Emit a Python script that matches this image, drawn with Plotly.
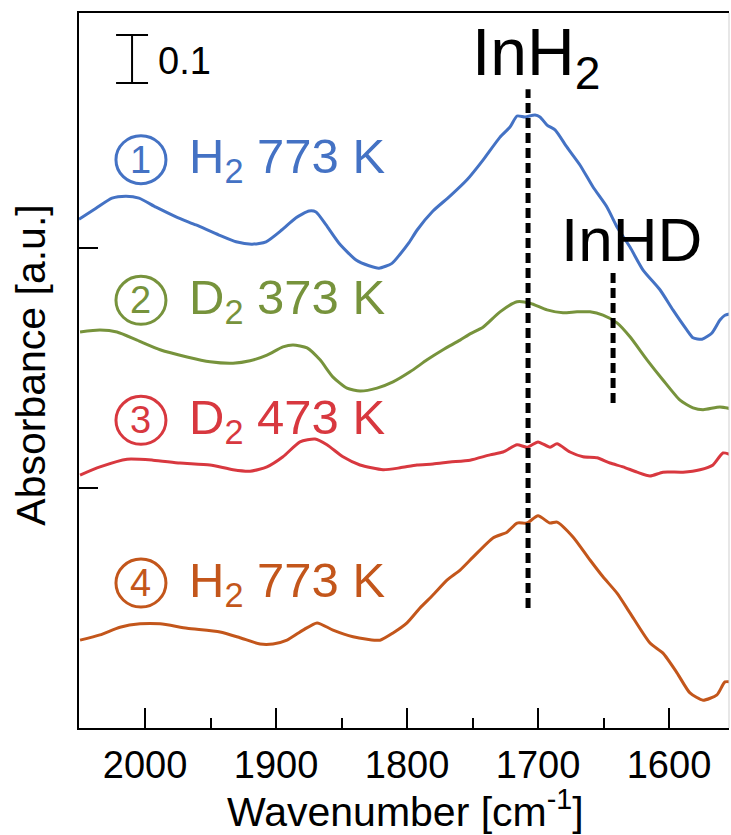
import plotly.graph_objects as go

# ---- spectra: wavenumber [cm-1] and absorbance (offset, a.u.) ----
wn_1 = [2050.4, 2037.4, 2025.2, 2014.5, 2004.6, 1991.6, 1976.3, 1961.1, 1943.5, 1930.5,
        1918.3, 1907.6, 1895.4, 1884.7, 1874.8, 1869.5, 1861.8, 1851.9, 1838.9, 1829.0,
        1821.4, 1811.5, 1805.3, 1798.5, 1792.4, 1780.2, 1767.2, 1754.2, 1742.0, 1729.0,
        1721.4, 1716.0, 1709.9, 1702.3, 1698.5, 1693.1, 1687.0, 1677.9, 1668.0, 1658.0,
        1647.3, 1639.7, 1629.8, 1619.8, 1606.9, 1597.0, 1586.3, 1581.7, 1574.8, 1567.2,
        1561.1, 1557.3, 1552.7]
ab_1 = [1.060, 1.083, 1.104, 1.108, 1.104, 1.085, 1.065, 1.048, 1.027, 1.013,
        1.008, 1.013, 1.038, 1.063, 1.077, 1.075, 1.048, 1.010, 0.975, 0.963,
        0.958, 0.968, 0.987, 1.011, 1.037, 1.077, 1.108, 1.142, 1.183, 1.231,
        1.252, 1.275, 1.273, 1.277, 1.273, 1.256, 1.246, 1.210, 1.173, 1.127,
        1.085, 1.044, 1.002, 0.954, 0.913, 0.871, 0.829, 0.813, 0.810, 0.823,
        0.850, 0.860, 0.863]

wn_2 = [2049.6, 2034.4, 2021.4, 2006.1, 1988.5, 1967.9, 1950.4, 1932.8, 1919.8, 1906.9,
        1894.7, 1887.0, 1876.3, 1866.4, 1856.5, 1845.8, 1835.9, 1822.9, 1810.7, 1797.7,
        1784.7, 1772.5, 1759.5, 1751.9, 1742.0, 1729.0, 1716.0, 1706.1, 1693.1, 1680.9,
        1670.2, 1660.3, 1650.4, 1639.7, 1629.8, 1616.8, 1604.6, 1591.6, 1581.7, 1574.0,
        1561.1, 1552.7]
ab_2 = [0.825, 0.829, 0.825, 0.808, 0.788, 0.773, 0.763, 0.760, 0.765, 0.777,
        0.794, 0.798, 0.792, 0.767, 0.731, 0.708, 0.702, 0.708, 0.721, 0.742,
        0.767, 0.788, 0.808, 0.821, 0.835, 0.867, 0.888, 0.885, 0.871, 0.865,
        0.867, 0.867, 0.860, 0.844, 0.815, 0.767, 0.725, 0.683, 0.667, 0.663,
        0.669, 0.665]

wn_3 = [2049.6, 2034.4, 2013.7, 1993.9, 1973.3, 1950.4, 1932.8, 1919.8, 1906.9, 1894.7,
        1881.7, 1870.2, 1861.1, 1848.9, 1835.9, 1818.3, 1805.3, 1792.4, 1780.2, 1767.2,
        1751.9, 1736.6, 1726.7, 1716.0, 1708.4, 1700.0, 1690.8, 1685.5, 1675.6, 1665.6,
        1655.0, 1645.0, 1635.1, 1624.4, 1614.5, 1604.6, 1589.3, 1576.3, 1566.4, 1558.8,
        1552.7]
ab_3 = [0.527, 0.544, 0.560, 0.558, 0.552, 0.548, 0.538, 0.535, 0.544, 0.565,
        0.596, 0.602, 0.590, 0.565, 0.548, 0.538, 0.542, 0.548, 0.550, 0.554,
        0.558, 0.569, 0.575, 0.590, 0.585, 0.596, 0.585, 0.592, 0.575, 0.565,
        0.563, 0.552, 0.544, 0.533, 0.525, 0.533, 0.533, 0.538, 0.548, 0.573,
        0.569]

wn_4 = [2049.6, 2034.4, 2019.1, 2003.8, 1988.5, 1967.9, 1942.7, 1927.5, 1912.2, 1902.3,
        1891.6, 1879.4, 1868.7, 1856.5, 1841.2, 1830.5, 1820.6, 1810.7, 1800.0, 1790.1,
        1780.2, 1769.5, 1759.5, 1749.6, 1734.4, 1723.7, 1716.0, 1708.4, 1700.0, 1690.8,
        1685.5, 1673.3, 1660.3, 1650.4, 1639.7, 1629.8, 1614.5, 1604.6, 1593.9, 1584.0,
        1574.0, 1563.4, 1557.3, 1552.7]
ab_4 = [0.183, 0.194, 0.210, 0.217, 0.217, 0.208, 0.200, 0.188, 0.175, 0.175,
        0.183, 0.204, 0.219, 0.204, 0.190, 0.185, 0.183, 0.198, 0.219, 0.250,
        0.277, 0.308, 0.329, 0.356, 0.396, 0.408, 0.427, 0.427, 0.442, 0.427,
        0.429, 0.398, 0.350, 0.315, 0.281, 0.240, 0.177, 0.156, 0.115, 0.073,
        0.058, 0.069, 0.096, 0.096]

labels = ["H<sub>2</sub> 773 K", "D<sub>2</sub> 373 K", "D<sub>2</sub> 473 K", "H<sub>2</sub> 773 K"]
numbers = ["1", "2", "3", "4"]
colors = ["#4472C4", "#77933C", "#D8383F", "#C3561B"]
label_y = [1.184, 0.891, 0.641, 0.302]

x_ticks = [2000, 1900, 1800, 1700, 1600]

# band positions marked with dashed lines
band_names = ["InH<sub>2</sub>", "InHD"]
band_wn = [1707.6, 1642.7]
band_y = [(0.250, 1.331), (0.677, 0.948)]

# scale bar for absorbance
scale_value = 0.1
scale_top = 1.444

FONT = "Liberation Sans, Arial, sans-serif"

fig = go.Figure()
series = [(wn_1, ab_1), (wn_2, ab_2), (wn_3, ab_3), (wn_4, ab_4)]
for (wx, ay), c in zip(series, colors):
    fig.add_trace(go.Scatter(x=wx, y=ay, mode="lines",
                             line=dict(color=c, width=3, shape="spline", smoothing=0.6),
                             showlegend=False, hoverinfo="skip"))

for w, (y0, y1) in zip(band_wn, band_y):
    fig.add_trace(go.Scatter(x=[w, w], y=[y0, y1], mode="lines",
                             line=dict(color="black", width=5, dash="10px,5px"),
                             showlegend=False, hoverinfo="skip"))

# scale bar (I-beam)
sx = 2009.9
fig.add_trace(go.Scatter(
    x=[sx, sx, None, 2022.1, 1997.7, None, 2022.1, 1997.7],
    y=[scale_top, scale_top - scale_value, None, scale_top, scale_top, None,
       scale_top - scale_value, scale_top - scale_value],
    mode="lines", line=dict(color="black", width=2),
    showlegend=False, hoverinfo="skip"))

annotations = [
    dict(x=1991.5, y=scale_top - scale_value / 2 - 0.004, text=str(scale_value), showarrow=False,
         xanchor="left", yanchor="middle", font=dict(size=38, color="black", family=FONT)),
    dict(x=1701.5, y=1.398, text=band_names[0], showarrow=False,
         xanchor="center", yanchor="middle", font=dict(size=66, color="black", family=FONT)),
    dict(x=1628.5, y=1.018, text=band_names[1], showarrow=False,
         xanchor="center", yanchor="middle", font=dict(size=62, color="black", family=FONT)),
    dict(x=-0.074, y=0.508, xref="paper", yref="paper", text="Absorbance [a.u.]",
         showarrow=False, textangle=-90, xanchor="center", yanchor="middle",
         font=dict(size=41, color="black", family=FONT)),
    dict(x=0.503, y=-0.113, xref="paper", yref="paper", text="Wavenumber [cm<sup>-1</sup>]",
         showarrow=False, xanchor="center", yanchor="middle",
         font=dict(size=41, color="black", family=FONT)),
]

shapes = []
cx = 2003.1
for num, lab, c, yy in zip(numbers, labels, colors, label_y):
    shapes.append(dict(type="circle", xref="x", yref="y", xsizemode="pixel", ysizemode="pixel",
                       xanchor=cx, yanchor=yy, x0=-25, x1=25, y0=-24, y1=24,
                       line=dict(color=c, width=3)))
    annotations.append(dict(x=cx, y=yy, text=num, showarrow=False, xanchor="center",
                            yanchor="middle", font=dict(size=38, color=c, family=FONT)))
    annotations.append(dict(x=1967.9, y=yy, text=lab, showarrow=False, xanchor="left",
                            yanchor="middle", font=dict(size=49, color=c, family=FONT)))

# faint right frame edge
shapes.append(dict(type="line", xref="paper", yref="paper", x0=1, x1=1, y0=0, y1=1,
                   line=dict(color="#cfcfcf", width=1)))

fig.update_layout(
    width=731, height=835,
    margin=dict(l=79, r=2, t=13, b=107),
    paper_bgcolor="white", plot_bgcolor="white",
    annotations=annotations, shapes=shapes,
    xaxis=dict(range=[2050.4, 1554.2], showgrid=False, zeroline=False,
               showline=True, linecolor="black", linewidth=2, mirror=True,
               ticks="inside", ticklen=20, tickwidth=2, tickcolor="black",
               tickvals=x_ticks, ticktext=[str(t) for t in x_ticks],
               minor=dict(ticks="inside", ticklen=10, tickwidth=2, tickcolor="black", dtick=50),
               tickfont=dict(size=38, color="black", family=FONT),
               ticklabelstandoff=2),
    yaxis=dict(range=[0, 1.4896], showgrid=False, zeroline=False,
               showline=True, linecolor="black", linewidth=2, mirror=False,
               ticks="inside", ticklen=19, tickwidth=2, tickcolor="black",
               tickvals=[0.5, 1.0], showticklabels=False),
)

fig.write_html("out.html")
